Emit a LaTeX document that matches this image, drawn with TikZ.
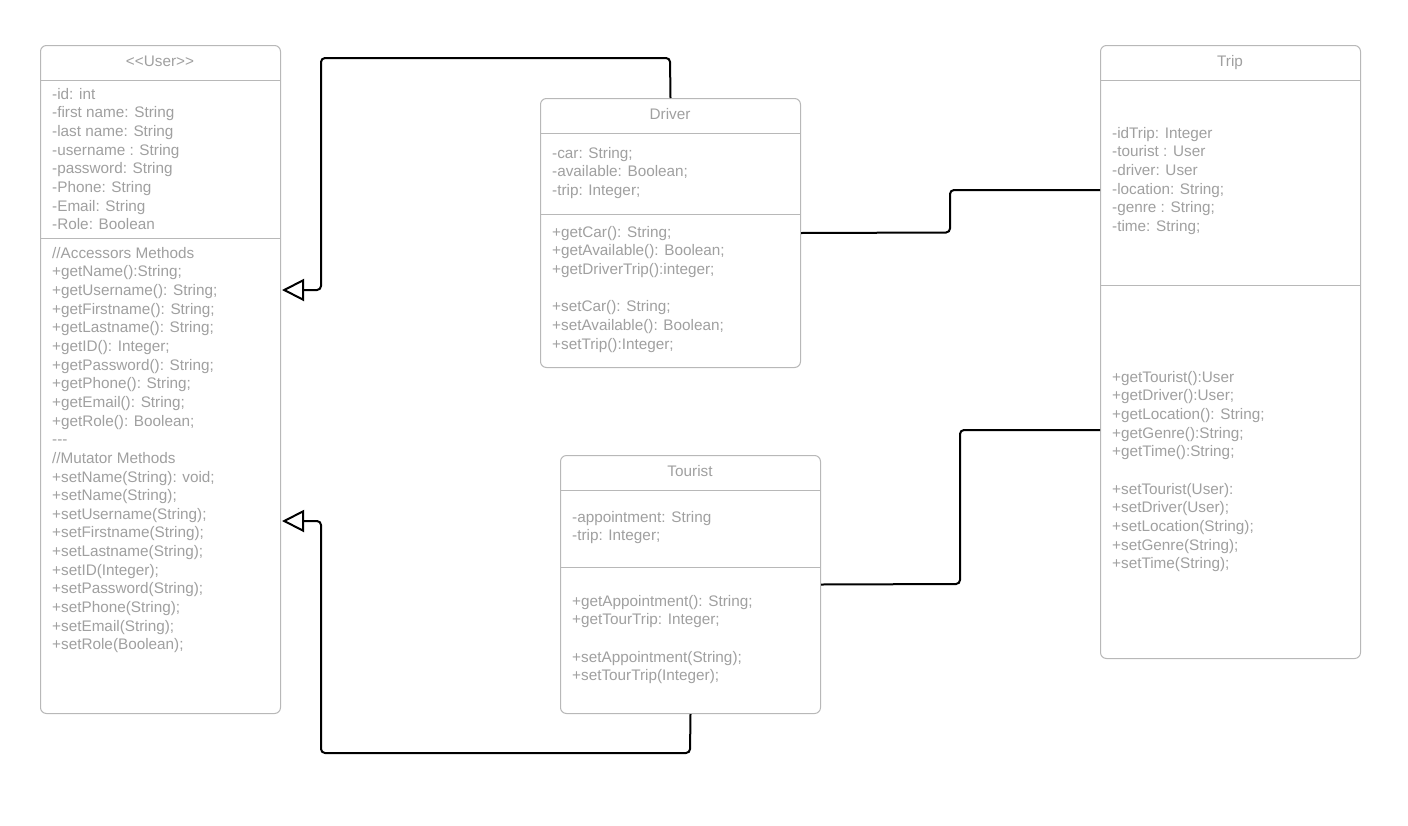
\documentclass[tikz,border=0pt]{standalone}
\usepackage{fontspec}
\setmainfont{Liberation Sans}
\usetikzlibrary{arrows.meta}
\definecolor{txtgrey}{HTML}{A0A0A0}
\definecolor{boxgrey}{HTML}{B8B8B8}
\newcommand\firstln{\rule{0pt}{12pt}}
\begin{document}
\begin{tikzpicture}[x=1pt,y=-1pt,
  umlbox/.style={draw=boxgrey, line width=1pt, rounded corners=6pt, fill=white, inner sep=0pt, anchor=north west},
  sepline/.style={draw=boxgrey, line width=1pt},
  ttl/.style={text=txtgrey, font=\fontsize{15.3}{18.65}\selectfont, anchor=base, inner sep=0pt},
  body/.style={text=txtgrey, font=\fontsize{15.3}{18.65}\selectfont, align=left, anchor=north west, inner sep=0pt},
  conn/.style={draw=black, line width=2pt, rounded corners=4pt},
  inh/.style={conn, -{Triangle[open, length=22pt, width=22pt, line width=2pt]}}
]
\useasboundingbox[fill=white] (0,0) rectangle (1408,825);

% User
\node[umlbox, minimum width=240pt, minimum height=668pt] (user) at (40,45) {};
\draw[sepline] (40,80) -- (280,80);
\draw[sepline] (40,238) -- (280,238);
\node[ttl] (usert) at (160,66) {<{}<User>{}>};
\node[body] (usera) at (52,87) {\firstln -id: int\\-first name: String\\-last name: String\\-username : String\\-password: String\\-Phone: String\\-Email: String\\-Role: Boolean};
\node[body] (userm) at (52,246) {\firstln //Accessors Methods\\+getName():String;\\+getUsername(): String;\\+getFirstname(): String;\\+getLastname(): String;\\+getID(): Integer;\\+getPassword(): String;\\+getPhone(): String;\\+getEmail(): String;\\+getRole(): Boolean;\\-{}-{}-\\//Mutator Methods\\+setName(String): void;\\+setName(String);\\+setUsername(String);\\+setFirstname(String);\\+setLastname(String);\\+setID(Integer);\\+setPassword(String);\\+setPhone(String);\\+setEmail(String);\\+setRole(Boolean);};

% Driver
\node[umlbox, minimum width=260pt, minimum height=269pt] (driver) at (540,98) {};
\draw[sepline] (540,133) -- (800,133);
\draw[sepline] (540,214) -- (800,214);
\node[ttl] (drivert) at (670,119) {Driver};
\node[body] (drivera) at (552,146) {\firstln -car: String;\\-available: Boolean;\\-trip: Integer;};
\node[body] (driverm) at (552,225) {\firstln +getCar(): String;\\+getAvailable(): Boolean;\\+getDriverTrip():integer;\\\mbox{}\\+setCar(): String;\\+setAvailable(): Boolean;\\+setTrip():Integer;};

% Tourist
\node[umlbox, minimum width=260pt, minimum height=258pt] (tourist) at (560,455) {};
\draw[sepline] (560,490) -- (820,490);
\draw[sepline] (560,567) -- (820,567);
\node[ttl] (touristt) at (690,476) {Tourist};
\node[body] (tourista) at (572,510) {\firstln -appointment: String\\-trip: Integer;};
\node[body] (touristm) at (572,594) {\firstln +getAppointment(): String;\\+getTourTrip: Integer;\\\mbox{}\\+setAppointment(String);\\+setTourTrip(Integer);};

% Trip
\node[umlbox, minimum width=260pt, minimum height=613pt] (trip) at (1100,45) {};
\draw[sepline] (1100,80) -- (1360,80);
\draw[sepline] (1100,285) -- (1360,285);
\node[ttl] (tript) at (1230,66) {Trip};
\node[body] (tripa) at (1112,126) {\firstln -idTrip: Integer\\-tourist : User\\-driver: User\\-location: String;\\-genre : String;\\-time: String;};
\node[body] (tripm) at (1112,370) {\firstln +getTourist():User\\+getDriver():User;\\+getLocation(): String;\\+getGenre():String;\\+getTime():String;\\\mbox{}\\+setTourist(User):\\+setDriver(User);\\+setLocation(String);\\+setGenre(String);\\+setTime(String);};

% connectors
\coordinate (ua) at (282,290);
\coordinate (ub) at (282,521);
\coordinate (ta) at (1100,190);
\coordinate (tb) at (1100,430);
\draw[inh] (driver.north) -- (670,58) -- (321,58) -- (321,290) -- (ua);
\draw[inh] (tourist.south) -- (690,753) -- (321,753) -- (321,521) -- (ub);
\draw[conn] (driver.east) -- (950,232.5) -- (950,190) -- (ta);
\draw[conn] (tourist.east) -- (960,584) -- (960,430) -- (tb);
\end{tikzpicture}
\end{document}
